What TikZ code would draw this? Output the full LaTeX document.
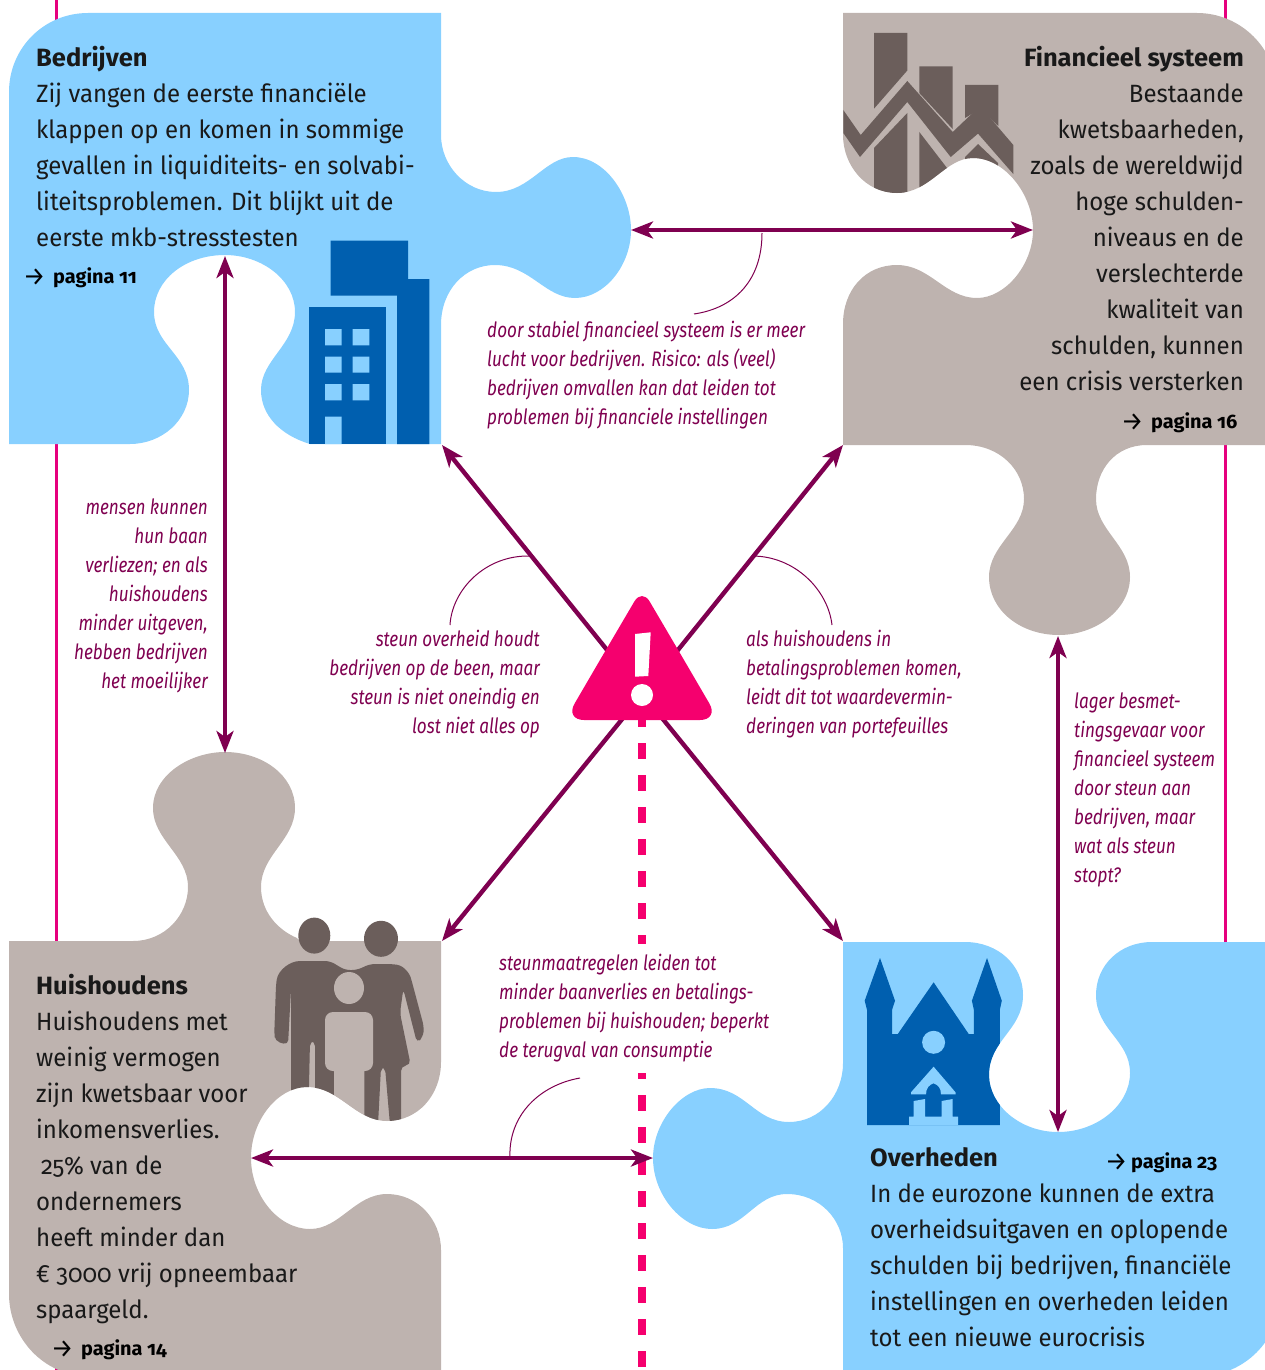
\documentclass[tikz,border=0pt]{standalone}
\usepackage{fontspec}
\usetikzlibrary{arrows.meta}
\setmainfont{Fira Sans}
\newfontfamily\bodyf[FakeStretch=0.96,Numbers=OldStyle,BoldFeatures={FakeStretch=1.02}]{Fira Sans}
\newfontfamily\labelf[FakeStretch=0.815]{Fira Sans}
\definecolor{skyblue}{HTML}{88D0FF}
\definecolor{taupe}{HTML}{BEB3AF}
\definecolor{darktaupe}{HTML}{6B5E5B}
\definecolor{iconblue}{HTML}{005FAF}
\definecolor{plum}{HTML}{7F0050}
\definecolor{hotpink}{HTML}{F5006E}
\definecolor{rail}{HTML}{E6007E}
\newcommand{\goto}[2]{\makebox[#1][l]{\hspace*{-3pt}\raisebox{-2pt}{\mdseries\fontsize{26}{24}\selectfont →}}#2}
\def\pathB{(9,92) .. controls (9,48) and (44,13) .. (88,13) -- (441,13) -- (441,135)
 .. controls (441,165) and (465,192) .. (496,192) .. controls (530,192) and (545,157) .. (573,157)
 .. controls (605,157) and (631,195) .. (631,230) .. controls (631,265) and (605,298) .. (575,298)
 .. controls (545,298) and (530,265) .. (495,265) .. controls (465,265) and (441,290) .. (441,325)
 -- (441,444) -- (310,444) .. controls (280,435) and (261,415) .. (261,390)
 .. controls (261,360) and (295,345) .. (295,312) .. controls (295,280) and (262,255) .. (225,255)
 .. controls (185,255) and (154,280) .. (154,312) .. controls (154,345) and (189,355) .. (189,390)
 .. controls (189,420) and (162,444) .. (130,444) -- (9,444) -- cycle}
\def\pathF{(843,13) -- (1197,13) .. controls (1241,13) and (1277,49) .. (1277,93) -- (1277,445) -- (1147,445)
 .. controls (1115,445) and (1096,470) .. (1096,499) .. controls (1096,530) and (1130,545) .. (1130,577)
 .. controls (1130,610) and (1095,635) .. (1059,635) .. controls (1020,635) and (989,610) .. (989,577)
 .. controls (989,545) and (1024,530) .. (1024,499) .. controls (1024,470) and (1000,445) .. (965,445)
 -- (843,445) -- (843,324) .. controls (843,290) and (865,265) .. (897,265)
 .. controls (930,265) and (945,298) .. (977,298) .. controls (1005,298) and (1033,265) .. (1033,230)
 .. controls (1033,195) and (1005,158) .. (973,158) .. controls (945,158) and (930,193) .. (897,193)
 .. controls (865,193) and (843,165) .. (843,135) -- cycle}
\def\pathH{(9,941) -- (133,941) .. controls (165,941) and (188,915) .. (188,887)
 .. controls (188,855) and (153,840) .. (153,808) .. controls (153,775) and (190,752) .. (225,752)
 .. controls (262,752) and (295,775) .. (295,808) .. controls (295,840) and (261,855) .. (261,887)
 .. controls (261,912) and (278,930) .. (297,938) -- (300,941) -- (441,941) -- (441,1062)
 .. controls (441,1095) and (418,1121) .. (387,1121) .. controls (355,1121) and (340,1087) .. (307,1087)
 .. controls (278,1087) and (251,1120) .. (251,1158) .. controls (251,1195) and (278,1229) .. (310,1229)
 .. controls (340,1229) and (355,1194) .. (387,1194) .. controls (418,1194) and (441,1220) .. (441,1250)
 -- (441,1376) -- (88,1376) .. controls (44,1376) and (9,1338) .. (9,1294) -- cycle}
\def\pathO{(843,942) -- (965,942) .. controls (998,942) and (1023,965) .. (1023,995)
 .. controls (1023,1030) and (989,1040) .. (989,1075) .. controls (989,1105) and (1020,1132) .. (1058,1132)
 .. controls (1097,1132) and (1130,1105) .. (1130,1073) .. controls (1130,1040) and (1096,1030) .. (1096,995)
 .. controls (1096,965) and (1120,942) .. (1152,942) -- (1280,942) -- (1280,1296)
 .. controls (1280,1340) and (1244,1376) .. (1200,1376) -- (843,1376) -- (843,1248)
 .. controls (843,1220) and (820,1194) .. (787,1194) .. controls (755,1194) and (745,1229) .. (712,1229)
 .. controls (682,1229) and (653,1195) .. (653,1158) .. controls (653,1122) and (682,1088) .. (710,1088)
 .. controls (745,1088) and (755,1122) .. (789,1122) .. controls (820,1122) and (843,1095) .. (843,1063) -- cycle}
\tikzset{
  railline/.style={rail,line width=3pt},
  dashline/.style={hotpink,line width=8pt,dash pattern=on 16pt off 16pt},
  twoway/.style={plum,line width=4.4pt,{Stealth[length=22pt,width=17pt,inset=6pt]}-{Stealth[length=22pt,width=17pt,inset=6pt]}},
  oneway/.style={plum,line width=4.4pt,-{Stealth[length=22pt,width=17pt,inset=6pt]}},
  leader/.style={plum,line width=1pt},
  bodytext/.style={inner sep=0pt,text=black!90,font=\bodyf\fontsize{25}{36}\selectfont},
  pagetext/.style={inner sep=0pt,anchor=base west,text=black,font=\bodyf\bfseries\fontsize{19.5}{24}\selectfont},
  labeltext/.style={inner sep=0pt,text=plum,font=\labelf\itshape\fontsize{21}{29}\selectfont},
}
\begin{document}
\begin{tikzpicture}[x=1pt,y=-1pt]
\useasboundingbox (0,0) rectangle (1265,1370);
\clip (0,0) rectangle (1265,1370);
% rails
\draw[railline] (56,0) -- (56,1370);
\draw[railline] (1225,0) -- (1225,1370);
% dashed line
\coordinate (dashA) at (642,711);
\coordinate (dashB) at (642,944);
\coordinate (dashC) at (642,1073);
\coordinate (dashD) at (642,1370);
\draw[dashline] (dashA) -- (dashB);
\draw[dashline,dash phase=10pt] (dashC) -- (dashD);
% pieces
\fill[skyblue] \pathB;
\fill[taupe] \pathF;
\fill[taupe] \pathH;
\fill[skyblue] \pathO;
% building icon
\fill[iconblue] (330.6,240.7) -- (408,240.7) -- (408,279) -- (429.4,279) -- (429.4,444) -- (397,444) -- (397,295.7) -- (330.6,295.7) -- cycle;
\fill[iconblue] (308.6,306.7) rectangle (385.7,444);
\fill[skyblue] (325,329) rectangle (341.6,345.3) (352.6,329) rectangle (369.4,345.3)
  (325,356.7) rectangle (341.6,372.7) (352.6,356.7) rectangle (369.4,372.7)
  (325,384) rectangle (341.6,400.3) (352.6,384) rectangle (369.4,400.3)
  (325,416.7) rectangle (341.6,444);
% finance icon
\begin{scope}
\clip \pathF;
\fill[darktaupe] (874,33) -- (907.3,33) -- (907.3,70.5) -- (874,108.7) -- cycle;
\fill[darktaupe] (919.3,66.4) -- (952.7,66.4) -- (952.7,129) -- (919.3,93) -- cycle;
\fill[darktaupe] (965,85) -- (998.3,85) -- (998.3,126) -- (980,109) -- (965,118) -- cycle;
\fill[darktaupe] (843.3,110) -- (860.7,135) -- (907.3,81) -- (952.7,132) -- (980,106) -- (1013.3,145) -- (1013.3,174) -- (978,133.6) -- (950.7,157) -- (907.3,102) -- (860,157) -- (843.3,133) -- cycle;
\fill[darktaupe] (874,148) -- (907.3,113) -- (907.3,200) -- (874,200) -- cycle;
\fill[darktaupe] (919.3,132) -- (947,168) -- (947,200) -- (919.3,200) -- cycle;
\fill[darktaupe] (965,157) -- (978,144) -- (998,163) -- (998,200) -- (965,200) -- cycle;
\end{scope}
% family icon
\fill[darktaupe] (314.3,935.6) ellipse[x radius=16,y radius=18];
\fill[darktaupe] (381,938.8) ellipse[x radius=17,y radius=18];
\begin{scope}
\clip \pathH;
\fill[darktaupe,rounded corners=5pt] (274.3,1033) -- (276,985) .. controls (278,970) and (290,961) .. (305,961) -- (330,961) -- (345,970) -- (357,970) -- (370,964) -- (392,964) .. controls (405,966) and (410,975) .. (412,982) -- (424,1027) -- (423,1037) -- (417,1043) -- (403.3,989) -- (400,1013) -- (410.7,1065) -- (401,1066) -- (401,1125) -- (390,1125) -- (385,1067) -- (381,1067) -- (378,1125) -- (364.3,1125) -- (364.3,1060) -- (334,1060) -- (334,1130) -- (315,1130) -- (315,1041) -- (310,1041) -- (308,1130) -- (291,1130) -- (291,989) -- (288,1045) -- (275,1041) -- cycle;
\fill[taupe] (349,988) ellipse[x radius=15,y radius=16];
\fill[taupe,rounded corners=8pt] (325,1012) -- (373,1012) -- (373,1071) -- (325,1071) -- cycle;
\fill[taupe] (334,1060) rectangle (364.3,1130);
\end{scope}
% church icon
\begin{scope}
\clip \pathO;
\fill[iconblue] (867,1125) -- (867,1010) -- (864.7,1000.7) -- (880,958) -- (895,1000.7) -- (892,1010) -- (892,1034) -- (897.8,1034) -- (933.6,982.3) -- (968.7,1034) -- (973.9,1034) -- (973.9,1010) -- (971.9,1000.7) -- (987,958) -- (1001.8,1000.7) -- (999.8,1010) -- (999.8,1125) -- cycle;
\fill[skyblue] (933.6,1042.3) circle[radius=11.5];
\fill[skyblue] (933.6,1066.7) -- (955.5,1092.3) -- (955.5,1094.3) -- (941,1094.3) .. controls (941,1088) and (938,1085) .. (933.6,1083.3) .. controls (929,1085) and (926,1088) .. (926,1094.3) -- (911,1094.3) -- (911,1092.3) -- cycle;
\fill[skyblue] (913.7,1101) -- (925,1099) -- (925,1116.7) -- (941.6,1116.7) -- (941.6,1101) -- (952.7,1099) -- (952.7,1116.7) -- (958,1116.7) -- (958,1125) -- (909,1125) -- (909,1116.7) -- (913.7,1116.7) -- cycle;
\end{scope}
% connectors
\coordinate (alert) at (642.5,694);
\coordinate (bedR) at (631,230);
\coordinate (finL) at (1033,230);
\coordinate (bedB) at (225,256);
\coordinate (huiT) at (225,753);
\coordinate (finB) at (1058,636);
\coordinate (oveT) at (1058,1132);
\coordinate (huiR) at (251,1158);
\coordinate (oveL) at (653,1158);
\coordinate (bedC) at (442,445);
\coordinate (finC) at (843,445);
\coordinate (huiC) at (442,941);
\coordinate (oveC) at (843,941);
\draw[twoway] (bedR) -- (finL);
\draw[twoway] (bedB) -- (huiT);
\draw[twoway] (finB) -- (oveT);
\draw[twoway] (huiR) -- (oveL);
\draw[oneway] (alert) -- (bedC);
\draw[oneway] (alert) -- (finC);
\draw[oneway] (alert) -- (huiC);
\draw[oneway] (alert) -- (oveC);
% alert triangle
\fill[hotpink] (642,720) [rounded corners=19pt] -- (719,720) -- (680.5,654) [rounded corners=15pt] -- (642,588.5) -- (603.5,654) [rounded corners=19pt] -- (565,720) [sharp corners] -- cycle;
\fill[white] (635,634) -- (650.7,632.3) -- (648.3,676) -- (635,676.7) -- cycle;
\fill[white] (642,695) circle[radius=11];
% leaders
\draw[leader] (762,233) .. controls (762,280) and (735,308) .. (694,314);
\draw[leader] (450,625) .. controls (452,590) and (485,555) .. (530,556);
\draw[leader] (832,625) .. controls (828,590) and (795,556) .. (752,556);
\draw[leader] (510,1158) .. controls (508,1115) and (540,1085) .. (580,1078);
% main texts
\node[bodytext,anchor=north west,align=left] (tb) at (36,40.8) {\strut\textbf{Bedrijven}\\Zij vangen de eerste financiële\\klappen op en komen in sommige\\gevallen in liquiditeits- en solvabi-\\liteitsproblemen. Dit blijkt uit de\\eerste mkb-stresstesten};
\node[pagetext] (pb) at (26,283) {\goto{27pt}{pagina 11}};
\node[bodytext,anchor=north east,align=right] (tf) at (1244,40.8) {\strut\textbf{Financieel systeem}\\Bestaande\\kwetsbaarheden,\\zoals de wereldwijd\\hoge schulden-\\niveaus en de\\verslechterde\\kwaliteit van\\schulden, kunnen\\een crisis versterken};
\node[pagetext] (pf) at (1124,428) {\goto{27pt}{pagina 16}};
\node[bodytext,anchor=north west,align=left] (th) at (36,968.8) {\strut\textbf{Huishoudens}\\Huishoudens met\\weinig vermogen\\zijn kwetsbaar voor\\inkomensverlies.\\\hspace{5pt}25\% van de\\ondernemers\\heeft minder dan\\€ 3000 vrij opneembaar\\spaargeld.};
\node[pagetext] (ph) at (54,1355) {\goto{27pt}{pagina 14}};
\node[bodytext,anchor=north west,align=left] (to) at (870,1140.8) {\strut\textbf{Overheden}\\In de eurozone kunnen de extra\\overheidsuitgaven en oplopende\\schulden bij bedrijven, financiële\\instellingen en overheden leiden\\tot een nieuwe eurocrisis};
\node[pagetext] (po) at (1108,1168) {\goto{23pt}{pagina 23}};
% labels
\node[labeltext,anchor=north west,align=left] (l1) at (487,317.4) {\strut door stabiel financieel systeem is er meer\\lucht voor bedrijven. Risico: als (veel)\\bedrijven omvallen kan dat leiden tot\\problemen bij financiele instellingen};
\node[labeltext,anchor=north east,align=right] (l2) at (208,494.4) {\strut mensen kunnen\\hun baan\\verliezen; en als\\huishoudens\\minder uitgeven,\\hebben bedrijven\\het moeilijker};
\node[labeltext,anchor=north east,align=right] (l3) at (540,626.4) {\strut steun overheid houdt\\bedrijven op de been, maar\\steun is niet oneindig en\\lost niet alles op};
\node[labeltext,anchor=north west,align=left] (l4) at (746,626.4) {\strut als huishoudens in\\betalingsproblemen komen,\\leidt dit tot waardevermin-\\deringen van portefeuilles};
\node[labeltext,anchor=north west,align=left] (l5) at (1074,688.4) {\strut lager besmet-\\tingsgevaar voor\\financieel systeem\\door steun aan\\bedrijven, maar\\wat als steun\\stopt?};
\node[labeltext,anchor=north west,align=left] (l6) at (499,950.4) {\strut steunmaatregelen leiden tot\\minder baanverlies en betalings-\\problemen bij huishouden; beperkt\\de terugval van consumptie};
\end{tikzpicture}
\end{document}
